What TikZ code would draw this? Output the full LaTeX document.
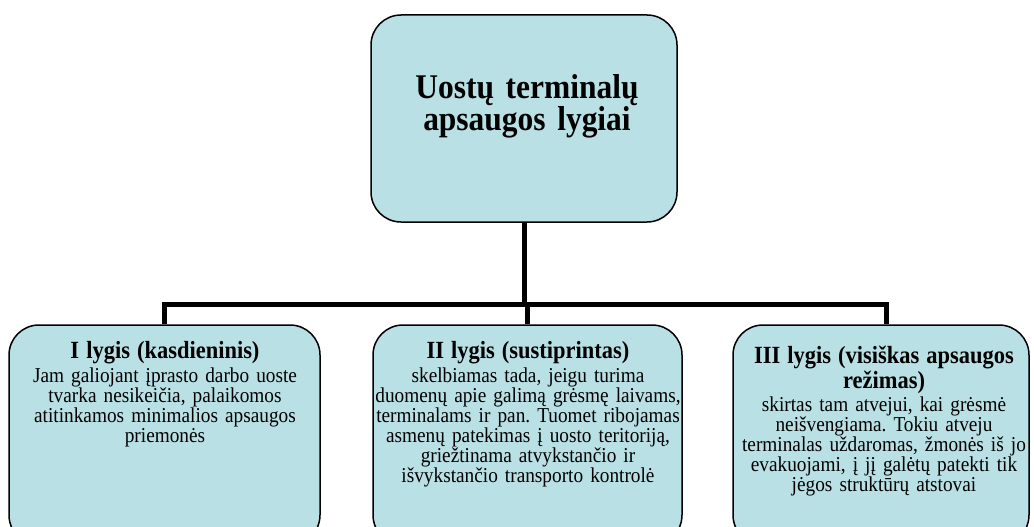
\documentclass[tikz,border=0pt]{standalone}
\usepackage{fontspec}
\setmainfont{Liberation Serif}[FakeStretch=0.91,WordSpace=0.9]
\definecolor{boxfill}{HTML}{B9E0E4}
\frenchspacing
\setlength{\lineskiplimit}{-100pt}
\newcommand\lvltitle{\fontsize{24.7}{25}\selectfont\bfseries}
\tikzset{
  lvlbox/.style={draw=black, line width=1.5pt, fill=boxfill, rounded corners=30pt, inner sep=0pt},
  conn/.style={line width=5pt, draw=black},
  txt/.style={text width=340pt, align=center, inner sep=0pt, anchor=north,
              font=\fontsize{21.2}{20}\selectfont},
}
\begin{document}
\begin{tikzpicture}[x=1pt,y=-1pt]
\useasboundingbox (0,0) rectangle (1034,527);
\clip (0,0) rectangle (1034,527);
% boxes
\node[lvlbox, minimum width=306pt, minimum height=207pt] (top) at (524,118.5) {};
\node[lvlbox, minimum width=311pt, minimum height=220pt] (b1) at (164.5,435) {};
\node[lvlbox, minimum width=309pt, minimum height=220pt] (b2) at (527.5,435) {};
\node[lvlbox, minimum width=296pt, minimum height=220pt] (b3) at (881,435) {};
% connectors
\coordinate (hub) at (527,304);
\draw[conn] (top.south) -- (top.south |- hub);
\draw[conn] (b1.north) -- (b1.north |- hub) -- ([xshift=5pt]b3.north |- hub) -- ([xshift=5pt]b3.north);
\draw[conn] (b2.north) -- (b2.north |- hub);
% texts
\node[txt, text width=300pt, font=\fontsize{34.6}{31}\selectfont\bfseries] (toptxt) at (527,74)
  {Uostų terminalų\\ apsaugos lygiai};
\node[txt] (t1) at (165,341)
  {{\lvltitle I lygis (kasdieninis)\par}\vspace{3pt}%
   Jam galiojant įprasto darbo uoste\\ tvarka nesikeičia, palaikomos\\ atitinkamos minimalios apsaugos\\ priemonės};
\node[txt] (t2) at (528,341)
  {{\lvltitle II lygis (sustiprintas)\par}\vspace{3pt}%
   skelbiamas tada, jeigu turima\\ duomenų apie galimą grėsmę laivams,\\ terminalams ir pan. Tuomet ribojamas\\ asmenų patekimas į uosto teritoriją,\\ griežtinama atvykstančio ir\\ išvykstančio transporto kontrolė};
\node[txt] (t3) at (884,346)
  {{\lvltitle III lygis (visiškas apsaugos\\ režimas)\par}\vspace{3pt}%
   skirtas tam atvejui, kai grėsmė\\ neišvengiama. Tokiu atveju\\ terminalas uždaromas, žmonės iš jo\\ evakuojami, į jį galėtų patekti tik\\ jėgos struktūrų atstovai};
\end{tikzpicture}
\end{document}
